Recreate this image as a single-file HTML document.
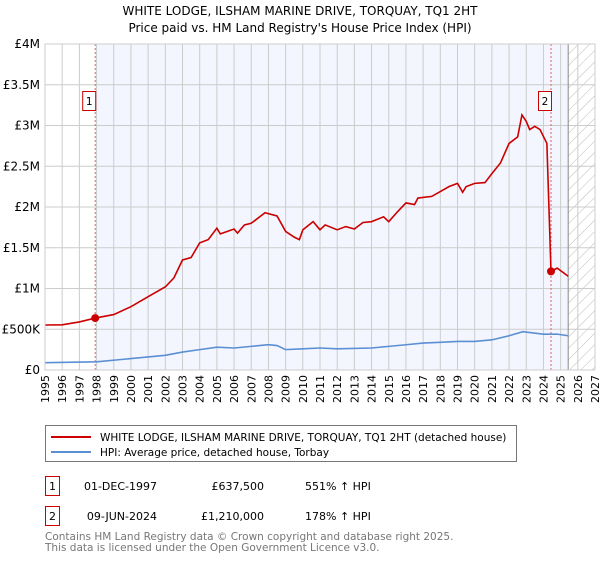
<!DOCTYPE html>
<html><head><meta charset="utf-8"><style>
body{margin:0;background:#fff;font-family:"DejaVu Sans","Liberation Sans",sans-serif;}
svg text{font-family:"DejaVu Sans","Liberation Sans",sans-serif;}
</style></head><body>
<svg id="c" width="600" height="560" viewBox="0 0 600 560" xmlns="http://www.w3.org/2000/svg">
<defs><pattern id="hatch" width="8" height="8" patternUnits="userSpaceOnUse" patternTransform="rotate(45)"><line x1="0" y1="0" x2="0" y2="8" stroke="#bbb" stroke-width="1"/></pattern></defs>
<text x="300" y="15" text-anchor="middle" font-size="12">WHITE LODGE, ILSHAM MARINE DRIVE, TORQUAY, TQ1 2HT</text>
<text x="300" y="32" text-anchor="middle" font-size="12">Price paid vs. HM Land Registry's House Price Index (HPI)</text>
<g id="plot"></g>
<g>
<rect x="45.5" y="425.5" width="471" height="36" fill="#fff" stroke="#777"/>
<line x1="51" y1="437" x2="91" y2="437" stroke="#cc0000" stroke-width="2"/>
<text x="100" y="441" font-size="10.5">WHITE LODGE, ILSHAM MARINE DRIVE, TORQUAY, TQ1 2HT (detached house)</text>
<line x1="51" y1="452" x2="91" y2="452" stroke="#5b8fd4" stroke-width="2"/>
<text x="100" y="456" font-size="10.5">HPI: Average price, detached house, Torbay</text>
</g>
<g font-size="11">
<rect x="45.5" y="476.5" width="14" height="19" fill="#fff" stroke="#cc0000"/>
<text x="52.5" y="490" text-anchor="middle">1</text>
<text x="157" y="490" text-anchor="end">01-DEC-1997</text>
<text x="264" y="490" text-anchor="end">£637,500</text>
<text x="305" y="490">551% ↑ HPI</text>
<rect x="45.5" y="506.5" width="14" height="19" fill="#fff" stroke="#cc0000"/>
<text x="52.5" y="520" text-anchor="middle">2</text>
<text x="157" y="520" text-anchor="end">09-JUN-2024</text>
<text x="264" y="520" text-anchor="end">£1,210,000</text>
<text x="305" y="520">178% ↑ HPI</text>
</g>
<text x="45" y="540" font-size="10.5" fill="#777">Contains HM Land Registry data © Crown copyright and database right 2025.</text>
<text x="45" y="551" font-size="10.5" fill="#777">This data is licensed under the Open Government Licence v3.0.</text>
</svg>
<script>
const yearTicks=[1995,1996,1997,1998,1999,2000,2001,2002,2003,2004,2005,2006,2007,2008,2009,2010,2011,2012,2013,2014,2015,2016,2017,2018,2019,2020,2021,2022,2023,2024,2025,2026,2027];
const valueTicks=[0,0.5,1,1.5,2,2.5,3,3.5,4];
const valueTickLabels=["£0","£500K","£1M","£1.5M","£2M","£2.5M","£3M","£3.5M","£4M"];
const propYears=[1995,1996,1997,1997.92,1999,2000,2001,2002,2002.5,2003,2003.5,2004,2004.5,2005,2005.2,2006,2006.2,2006.6,2007,2007.8,2008.5,2009,2009.5,2009.8,2010,2010.6,2011,2011.3,2012,2012.5,2013,2013.5,2014,2014.7,2015,2015.5,2016,2016.5,2016.7,2017.5,2018,2018.5,2019,2019.3,2019.5,2020,2020.6,2021,2021.5,2022,2022.5,2022.75,2023,2023.2,2023.5,2023.8,2024.2,2024.44,2024.8,2025.44];
const propValues=[0.552,0.555,0.59,0.637,0.68,0.777,0.90,1.02,1.13,1.35,1.38,1.56,1.60,1.74,1.67,1.73,1.68,1.78,1.80,1.93,1.89,1.70,1.63,1.60,1.72,1.82,1.72,1.78,1.72,1.76,1.73,1.81,1.82,1.88,1.82,1.94,2.05,2.03,2.11,2.13,2.19,2.25,2.29,2.18,2.25,2.29,2.30,2.41,2.54,2.78,2.86,3.13,3.05,2.95,2.99,2.95,2.78,1.21,1.25,1.15];
const hpiYears=[1995,1998,2000,2002,2003,2004,2005,2006,2007,2008,2008.5,2009,2010,2011,2012,2014,2015,2016,2017,2018,2019,2020,2021,2022,2022.8,2024,2024.8,2025.44];
const hpiValues=[0.09,0.10,0.14,0.18,0.22,0.25,0.28,0.27,0.29,0.31,0.30,0.25,0.26,0.27,0.26,0.27,0.29,0.31,0.33,0.34,0.35,0.35,0.37,0.42,0.47,0.44,0.44,0.42];
const saleYears=[1997.92,2024.44];
const saleValues=[0.637,1.21];
const saleLabels=["1","2"];
const dataEndYear=2025.44;

const NS="http://www.w3.org/2000/svg";
const L=45,R=595,T=44,B=370;
const X=y=>L+(y-1995)/(2027-1995)*(R-L);
const Y=v=>B-v/4*(B-T);
const g=document.getElementById('plot');
function mk(tag,attrs,parent){const e=document.createElementNS(NS,tag);for(const k in attrs)e.setAttribute(k,attrs[k]);(parent||g).appendChild(e);return e;}
let bg=mk('rect',{x:X(saleYears[0]),y:T,width:X(dataEndYear)-X(saleYears[0]),height:B-T,fill:'#f3f6fe'});


let ht=mk('rect',{x:X(dataEndYear),y:T,width:R-X(dataEndYear),height:B-T,fill:'url(#hatch)'});


yearTicks.forEach(yr=>{
 let l=mk('line',{x1:X(yr),x2:X(yr),y1:T,y2:B,stroke:'#ccc','stroke-width':1});
 
 
 let t=mk('text',{x:0,y:0,'font-size':11,'text-anchor':'end',transform:`translate(${X(yr)+4},${B+5}) rotate(-90)`});
 t.textContent=yr;
 
 
});
valueTicks.forEach((v,i)=>{
 let l=mk('line',{x1:L,x2:R,y1:Y(v),y2:Y(v),stroke:'#ccc','stroke-width':1});
 
 
 let t=mk('text',{x:L-5,y:Y(v)+4,'font-size':12,'text-anchor':'end'});
 t.textContent=valueTickLabels[i];
 
 
});
let dl=mk('line',{x1:X(dataEndYear),x2:X(dataEndYear),y1:T,y2:B,stroke:'#888','stroke-width':1});


saleYears.forEach((yr,i)=>{
 let l=mk('line',{x1:X(yr),x2:X(yr),y1:T,y2:B,stroke:'#e06060','stroke-width':1,'stroke-dasharray':'2,2'});
 
 
});
let hp=mk('polyline',{points:hpiYears.map((y,i)=>X(y)+','+Y(hpiValues[i])).join(' '),fill:'none',stroke:'#5b8fd4','stroke-width':1.6});


let pp=mk('polyline',{points:propYears.map((y,i)=>X(y)+','+Y(propValues[i])).join(' '),fill:'none',stroke:'#cc0000','stroke-width':1.6});


saleYears.forEach((yr,i)=>{
 let c=mk('circle',{cx:X(yr),cy:Y(saleValues[i]),r:4,fill:'#cc0000'});
 
 
 let bx=X(yr)-12;
 let r=mk('rect',{x:bx-0.5,y:91.5,width:13,height:19,fill:'#fff',stroke:'#cc0000'});
 
 
 let t=mk('text',{x:bx+6,y:105,'font-size':10.5,'text-anchor':'middle'});
 t.textContent=saleLabels[i];
 
 
});
let fr=mk('rect',{x:L,y:T,width:R-L,height:B-T,fill:'none',stroke:'#ccc'});


</script>
</body></html>
